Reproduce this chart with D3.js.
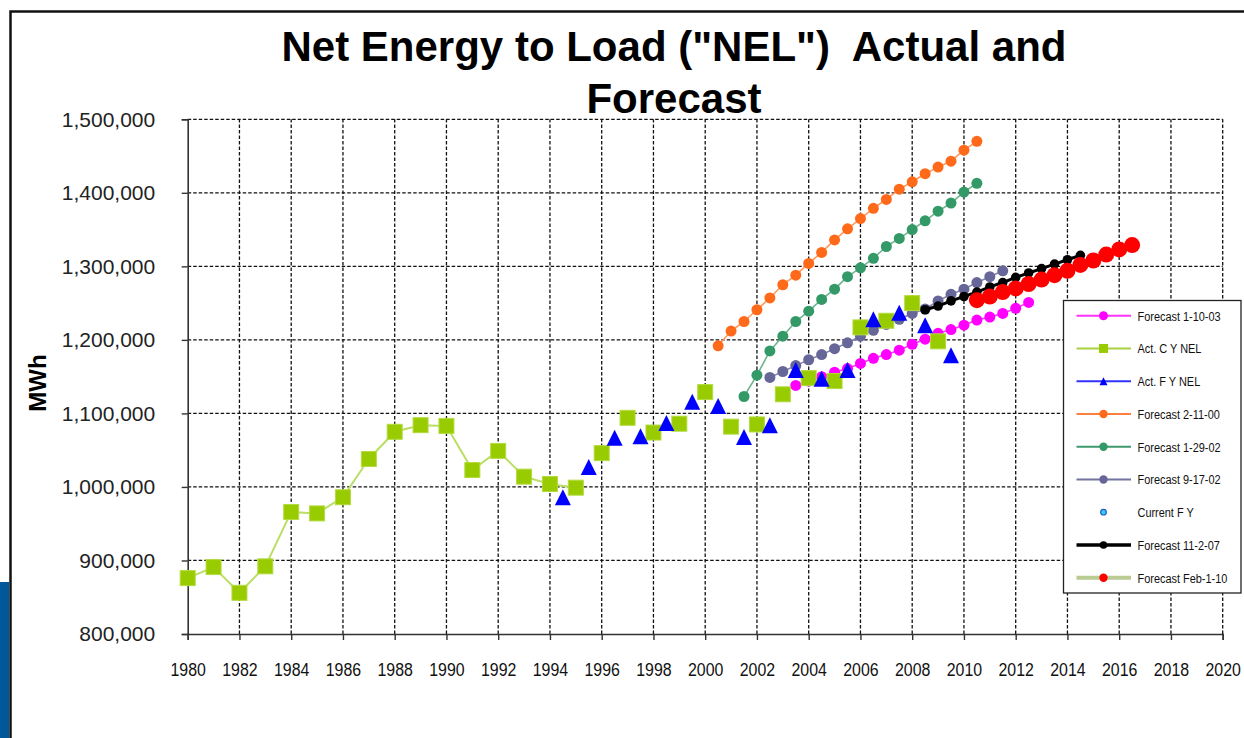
<!DOCTYPE html>
<html>
<head>
<meta charset="utf-8">
<script src="https://cdn.jsdelivr.net/npm/d3@7"></script>
<style>
  body { margin: 0; background: #fff; }
  svg { display: block; font-family: "Liberation Sans", Arial, sans-serif; }
</style>
</head>
<body>
<svg id="chart" width="1244" height="738"></svg>
<script>
// ---- data (MWh) ----
const xTickYears = [1980, 1982, 1984, 1986, 1988, 1990, 1992, 1994, 1996, 1998, 2000,
                    2002, 2004, 2006, 2008, 2010, 2012, 2014, 2016, 2018, 2020];
const yTickValues = [800000, 900000, 1000000, 1100000, 1200000, 1300000, 1400000, 1500000];

// Calendar-year actuals
const cyYears = [1980, 1981, 1982, 1983, 1984, 1985, 1986, 1987, 1988, 1989,
                 1990, 1991, 1992, 1993, 1994, 1995, 1996, 1997, 1998, 1999,
                 2000, 2001, 2002, 2003, 2004, 2005, 2006, 2007, 2008, 2009];
const cyValues = [876000, 891000, 856000, 892000, 966000, 964000, 986000, 1038000, 1075000, 1084000,
                  1083000, 1023000, 1049000, 1014000, 1004000, 999000, 1046000, 1094000, 1074000, 1086000,
                  1129000, 1082000, 1085000, 1126000, 1148000, 1144000, 1217000, 1226000, 1250000, 1198000];
const cyLineLastYear = 1995; // connecting line only drawn through this year

// Fiscal-year actuals (plotted mid-year)
const fyYears = [1994.5, 1995.5, 1996.5, 1997.5, 1998.5, 1999.5, 2000.5, 2001.5,
                 2002.5, 2003.5, 2004.5, 2005.5, 2006.5, 2007.5, 2008.5, 2009.5];
const fyValues = [986000, 1027000, 1067000, 1069000, 1087000, 1116000, 1110000, 1068000,
                  1084000, 1159000, 1147000, 1159000, 1228000, 1237000, 1220000, 1179000];

// Forecasts: first point's year, then one value every half year
const fc021100Start = 2000.5;
const fc021100 = [1192000, 1212000, 1225000, 1241000, 1257000, 1275000, 1288000, 1304000, 1319000, 1336000,
                  1351000, 1365000, 1379000, 1391000, 1405000, 1415000, 1426000, 1435000, 1443000, 1458000, 1470000];
const fc012902Start = 2001.5;
const fc012902 = [1123000, 1152000, 1185000, 1205000, 1225000, 1239000, 1255000, 1269000, 1286000, 1298000,
                  1311000, 1327000, 1338000, 1350000, 1362000, 1375000, 1386000, 1401000, 1413000];
const fc091702Start = 2002.5;
const fc091702 = [1149000, 1157000, 1165000, 1173000, 1180000, 1188000, 1196000, 1205000, 1213000, 1221000,
                  1228000, 1236000, 1242000, 1253000, 1262000, 1269000, 1278000, 1286000, 1294000];
const fc011003Start = 2003.5;
const fc011003 = [1138000, 1144000, 1150000, 1156000, 1161000, 1168000, 1175000, 1180000, 1186000, 1194000,
                  1201000, 1209000, 1214000, 1220000, 1227000, 1231000, 1236000, 1243000, 1251000];
const fc110207Start = 2008.5;
const fc110207 = [1241000, 1246000, 1253000, 1259000, 1265000, 1272000, 1278000, 1285000, 1291000, 1297000,
                  1303000, 1309000, 1315000];
const fcFeb0110Start = 2010.5;
const fcFeb0110 = [1254000, 1259000, 1265000, 1270000, 1276000, 1282000, 1288000, 1294000, 1302000, 1308000,
                   1316000, 1323000, 1329000];

const legendNames = ["Forecast 1-10-03", "Act. C Y NEL", "Act. F Y NEL", "Forecast 2-11-00",
                     "Forecast 1-29-02", "Forecast 9-17-02", "Current F Y", "Forecast 11-2-07", "Forecast Feb-1-10"];

// ---- layout ----
const svg = d3.select("#chart");
const x = d3.scaleLinear().domain([1980, 2020]).range([187.7, 1222.7]);
const y = d3.scaleLinear().domain([800000, 1500000]).range([634, 119.3]);

function halfYearSeries(start, values) {
  return values.map((v, i) => ({ x: start + i * 0.5, y: v }));
}

// page frame and side accent
svg.append("rect").attr("x", 0).attr("y", 582).attr("width", 9).attr("height", 156).attr("fill", "#00579B");
svg.append("path").attr("d", "M10.5,738 V11.5 H1244").attr("fill", "none").attr("stroke", "#111").attr("stroke-width", 2.5);

// title
const title = svg.append("text").attr("text-anchor", "middle")
  .attr("font-weight", "bold").attr("font-size", 42).attr("fill", "#000");
title.append("tspan").attr("x", 674).attr("y", 61).text('Net Energy to Load ("NEL")  Actual and').attr("xml:space", "preserve");
title.append("tspan").attr("x", 674).attr("y", 113).text("Forecast");

// y-axis title
svg.append("text").attr("transform", "translate(46,383) rotate(-90)")
  .attr("text-anchor", "middle").attr("font-weight", "bold").attr("font-size", 24).text("MWh");

// gridlines
const grid = svg.append("g").attr("stroke", "#111").attr("stroke-width", 1.3).attr("stroke-dasharray", "3.5,2");
grid.selectAll(".gy").data(yTickValues.filter(v => v > 800000)).join("line")
  .attr("x1", x(1980)).attr("x2", x(2020)).attr("y1", d => y(d)).attr("y2", d => y(d));
grid.selectAll(".gx").data(xTickYears.filter(v => v > 1980)).join("line")
  .attr("x1", d => x(d)).attr("x2", d => x(d)).attr("y1", y(800000)).attr("y2", y(1500000));

// axes
const yAxis = svg.append("g").attr("transform", `translate(${x(1980)},0)`)
  .call(d3.axisLeft(y).tickValues(yTickValues).tickFormat(d3.format(",")).tickSize(6).tickPadding(26.5));
yAxis.selectAll("text").attr("font-size", 21).attr("fill", "#222").attr("font-family", "Liberation Sans, Arial, sans-serif");
const xAxis = svg.append("g").attr("transform", `translate(0,${y(800000)})`)
  .call(d3.axisBottom(x).tickValues(xTickYears).tickFormat(d3.format("d")).tickSize(6).tickPadding(22.5));
// year labels are set in a narrow face: squeeze horizontally around each tick
xAxis.selectAll("text").attr("font-size", 18.5).attr("fill", "#111")
  .attr("font-family", "Liberation Sans, Arial, sans-serif").attr("transform", "scale(0.86,1)");
[yAxis, xAxis].forEach(a => {
  a.select(".domain").attr("stroke", "#333").attr("stroke-width", 1.6);
  a.selectAll(".tick line").attr("stroke", "#333").attr("stroke-width", 1.4);
});

// ---- series ----
const line = d3.line().x(d => x(d.x)).y(d => y(d.y));
const plot = svg.append("g");

function drawLine(data, color, width) {
  plot.append("path").datum(data).attr("d", line).attr("fill", "none")
    .attr("stroke", color).attr("stroke-width", width).attr("stroke-linejoin", "round");
}
function drawCircles(data, color, r) {
  plot.append("g").selectAll("circle").data(data).join("circle")
    .attr("cx", d => x(d.x)).attr("cy", d => y(d.y)).attr("r", r).attr("fill", color);
}

const cyData = cyYears.map((yr, i) => ({ x: yr, y: cyValues[i] }));
const fyData = fyYears.map((yr, i) => ({ x: yr, y: fyValues[i] }));

// forecast 1-10-03
const magenta = halfYearSeries(fc011003Start, fc011003);
drawLine(magenta, "#FF33FF", 1.6);
drawCircles(magenta, "#FF00FF", 5.5);

// forecast 2-11-00
const orange = halfYearSeries(fc021100Start, fc021100);
drawLine(orange, "#FF9A5C", 1.6);
drawCircles(orange, "#FF6A1A", 5.5);

// forecast 1-29-02
const green = halfYearSeries(fc012902Start, fc012902);
drawLine(green, "#6FB592", 1.6);
drawCircles(green, "#339966", 5.5);

// forecast 9-17-02
const purple = halfYearSeries(fc091702Start, fc091702);
drawLine(purple, "#8585AD", 1.6);
drawCircles(purple, "#666699", 5.5);

// calendar-year actuals
drawLine(cyData.filter(d => d.x <= cyLineLastYear), "#B9DE63", 2);
plot.append("g").selectAll("rect").data(cyData).join("rect")
  .attr("x", d => x(d.x) - 7.5).attr("y", d => y(d.y) - 7.5).attr("width", 15).attr("height", 15)
  .attr("fill", "#99CC00").attr("stroke", "#B3DB40").attr("stroke-width", 1);

// fiscal-year actuals
const tri = (w, h) => `M0,${-h / 2} L${w / 2},${h / 2} L${-w / 2},${h / 2} Z`;
plot.append("g").selectAll("path").data(fyData).join("path")
  .attr("transform", d => `translate(${x(d.x)},${y(d.y)})`).attr("d", tri(16, 16)).attr("fill", "#0000FF");

// forecast 11-2-07
const black = halfYearSeries(fc110207Start, fc110207);
drawLine(black, "#000", 3);
drawCircles(black, "#000", 4.8);

// forecast Feb-1-10
const red = halfYearSeries(fcFeb0110Start, fcFeb0110);
drawLine(red, "#C3D69B", 3.5);
drawCircles(red, "#FF0000", 8);

// ---- legend ----
const lg = svg.append("g");
lg.append("rect").attr("x", 1063.5).attr("y", 300.5).attr("width", 177.5).attr("height", 292.5)
  .attr("fill", "#fff").attr("stroke", "#222").attr("stroke-width", 1.3);
const legendStyles = [
  { line: "#FF33FF", lw: 2, marker: "circle", color: "#FF00FF", r: 4.5 },
  { line: "#A8D040", lw: 2, marker: "square", color: "#99CC00" },
  { line: "#3333FF", lw: 2, marker: "triangle", color: "#0000FF" },
  { line: "#FF7F3F", lw: 2, marker: "circle", color: "#FF6A1A", r: 4.2 },
  { line: "#3C9A6E", lw: 2, marker: "circle", color: "#339966", r: 4.2 },
  { line: "#7373A0", lw: 2, marker: "circle", color: "#666699", r: 4.2 },
  { line: null, marker: "current", color: "#33CCFF" },
  { line: "#000", lw: 3.5, marker: "circle", color: "#000", r: 3.8 },
  { line: "#BACB94", lw: 4, marker: "circle", color: "#FF0000", r: 4.2 }
];
legendNames.forEach((name, i) => {
  const cy = 315.7 + i * 32.75;
  const s = legendStyles[i];
  const g = lg.append("g");
  if (s.line) g.append("line").attr("x1", 1076.5).attr("x2", 1131).attr("y1", cy).attr("y2", cy)
    .attr("stroke", s.line).attr("stroke-width", s.lw);
  if (s.marker === "circle") g.append("circle").attr("cx", 1103.5).attr("cy", cy).attr("r", s.r).attr("fill", s.color);
  if (s.marker === "square") g.append("rect").attr("x", 1099).attr("y", cy - 4.5).attr("width", 9).attr("height", 9).attr("fill", s.color);
  if (s.marker === "triangle") g.append("path").attr("transform", `translate(1103.5,${cy})`).attr("d", tri(8, 8)).attr("fill", s.color);
  if (s.marker === "current") g.append("circle").attr("cx", 1103.5).attr("cy", cy).attr("r", 2.8)
    .attr("fill", s.color).attr("stroke", "#1F5FBF").attr("stroke-width", 1.2);
  // legend labels use a narrow face: squeeze horizontally from the left edge
  g.append("text").attr("transform", `translate(1137.5,${cy + 5}) scale(0.81,1)`)
    .attr("font-size", 13.5).attr("fill", "#111").text(name);
});
</script>
</body>
</html>
